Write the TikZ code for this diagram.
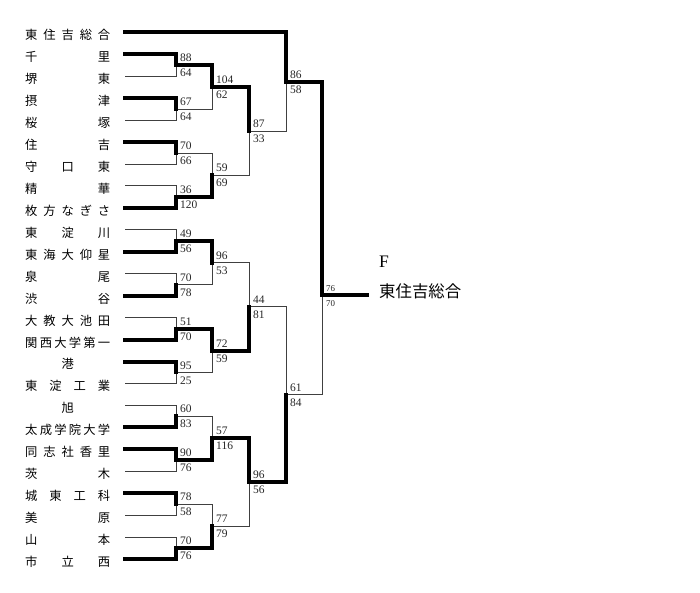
\documentclass[tikz,border=0pt]{standalone}
\usepackage{fontspec}
\setmainfont{Liberation Serif}
\newfontfamily\jpfont{Noto Sans CJK JP}
\usetikzlibrary{calc}

% spread the letters of a school name over a fixed width
\newcommand\spreadname[1]{\makebox[2.55cm][s]{\sprx#1\endspr}}
\def\sprx#1#2\endspr{#1\ifx\relax#2\relax\else\hfill\sprx#2\endspr\fi}

\begin{document}
\begin{tikzpicture}[x=0.03cm, y=-0.03cm,
  schoolname/.style={anchor=base west, inner sep=0pt, font=\jpfont\fontsize{10.5}{12}\selectfont},
  score/.style={anchor=base west, inner sep=0pt, font=\fontsize{9.8}{11}\selectfont, text=black!85},
  winline/.style={line width=3.4pt, line cap=rect, line join=miter},
  loseline/.style={line width=0.8pt, black!75}]

\useasboundingbox (0,0) rectangle (700,593);

% schools, top to bottom
\foreach \s [count=\i from 0] in {東住吉総合, 千里, 堺東, 摂津, 桜塚, 住吉, 守口東, 精華,
    枚方なぎさ, 東淀川, 東海大仰星, 泉尾, 渋谷, 大教大池田, 関西大学第一, \hfill 港\hfill,
    東淀工業, \hfill 旭\hfill, 太成学院大学, 同志社香里, 茨木, 城東工科, 美原, 山本, 市立西} {
  \node[schoolname] (sch\i) at (25, {39.7+21.95*\i}) {\expandafter\spreadname\expandafter{\s}};
  \coordinate (e\i) at (125, {32.3+21.95*\i});
}

% first round
\coordinate (r1a) at (176, 65.2);
\coordinate (r1b) at (176, 109.1);
\coordinate (r1c) at (176, 153.0);
\coordinate (r1d) at (176, 196.9);
\coordinate (r1e) at (176, 240.8);
\coordinate (r1f) at (176, 284.7);
\coordinate (r1g) at (176, 328.6);
\coordinate (r1h) at (176, 372.5);
\coordinate (r1i) at (176, 416.4);
\coordinate (r1j) at (176, 460.3);
\coordinate (r1k) at (176, 504.2);
\coordinate (r1l) at (176, 548.1);
% second round
\coordinate (r2a) at (212, 87.2);
\coordinate (r2b) at (212, 175.0);
\coordinate (r2c) at (212, 262.8);
\coordinate (r2d) at (212, 350.6);
\coordinate (r2e) at (212, 438.4);
\coordinate (r2f) at (212, 526.2);
% third round
\coordinate (r3a) at (249, 131.1);
\coordinate (r3b) at (249, 306.7);
\coordinate (r3c) at (249, 482.3);
% semi final
\coordinate (r4a) at (286, 81.7);
\coordinate (r4b) at (286, 394.5);
% final
\coordinate (fin) at (322, 295);
\coordinate (champ) at (367, 295);

% upper / lower entrant, junction, upper / lower score
\def\bouts{e1/e2/r1a/88/64, e3/e4/r1b/67/64, e5/e6/r1c/70/66, e7/e8/r1d/36/120,
  e9/e10/r1e/49/56, e11/e12/r1f/70/78, e13/e14/r1g/51/70, e15/e16/r1h/95/25,
  e17/e18/r1i/60/83, e19/e20/r1j/90/76, e21/e22/r1k/78/58, e23/e24/r1l/70/76,
  r1a/r1b/r2a/104/62, r1c/r1d/r2b/59/69, r1e/r1f/r2c/96/53, r1g/r1h/r2d/72/59,
  r1i/r1j/r2e/57/116, r1k/r1l/r2f/77/79,
  r2a/r2b/r3a/87/33, r2c/r2d/r3b/44/81, r2e/r2f/r3c/96/56,
  e0/r3a/r4a/86/58, r3b/r3c/r4b/61/84}

% losers first
\foreach \u/\d/\m/\su/\sd in \bouts {
  \ifnum\su>\sd
    \draw[loseline] (\d) -- (\d -| \m) -- (\m);
  \else
    \draw[loseline] (\u) -- (\u -| \m) -- (\m);
  \fi
}
\draw[loseline] (r4b) -- (r4b -| fin) -- (fin);

% winners and scores
\foreach \u/\d/\m/\su/\sd in \bouts {
  \ifnum\su>\sd
    \draw[winline] (\u) -- (\u -| \m) -- (\m);
  \else
    \draw[winline] (\d) -- (\d -| \m) -- (\m);
  \fi
  \node[score] (\m hi) at ($(\m)+(4,-3.5)$) {\su};
  \node[score] (\m lo) at ($(\m)+(4,11.5)$) {\sd};
}

% final
\draw[winline] (r4a) -- (r4a -| fin) -- (fin) -- (champ);
\node[score, font=\fontsize{7.6}{9}\selectfont] (finhi) at ($(fin)+(4,-4)$) {76};
\node[score, font=\fontsize{7.6}{9}\selectfont] (finlo) at ($(fin)+(4,11.5)$) {70};

\node[anchor=base west, inner sep=0pt, font=\fontsize{15}{18}\selectfont] (flab) at (379, 267) {F};
\node[anchor=base west, inner sep=0pt, font=\jpfont\fontsize{14}{16}\selectfont] (champname) at (379, 297) {東住吉総合};

\end{tikzpicture}
\end{document}
